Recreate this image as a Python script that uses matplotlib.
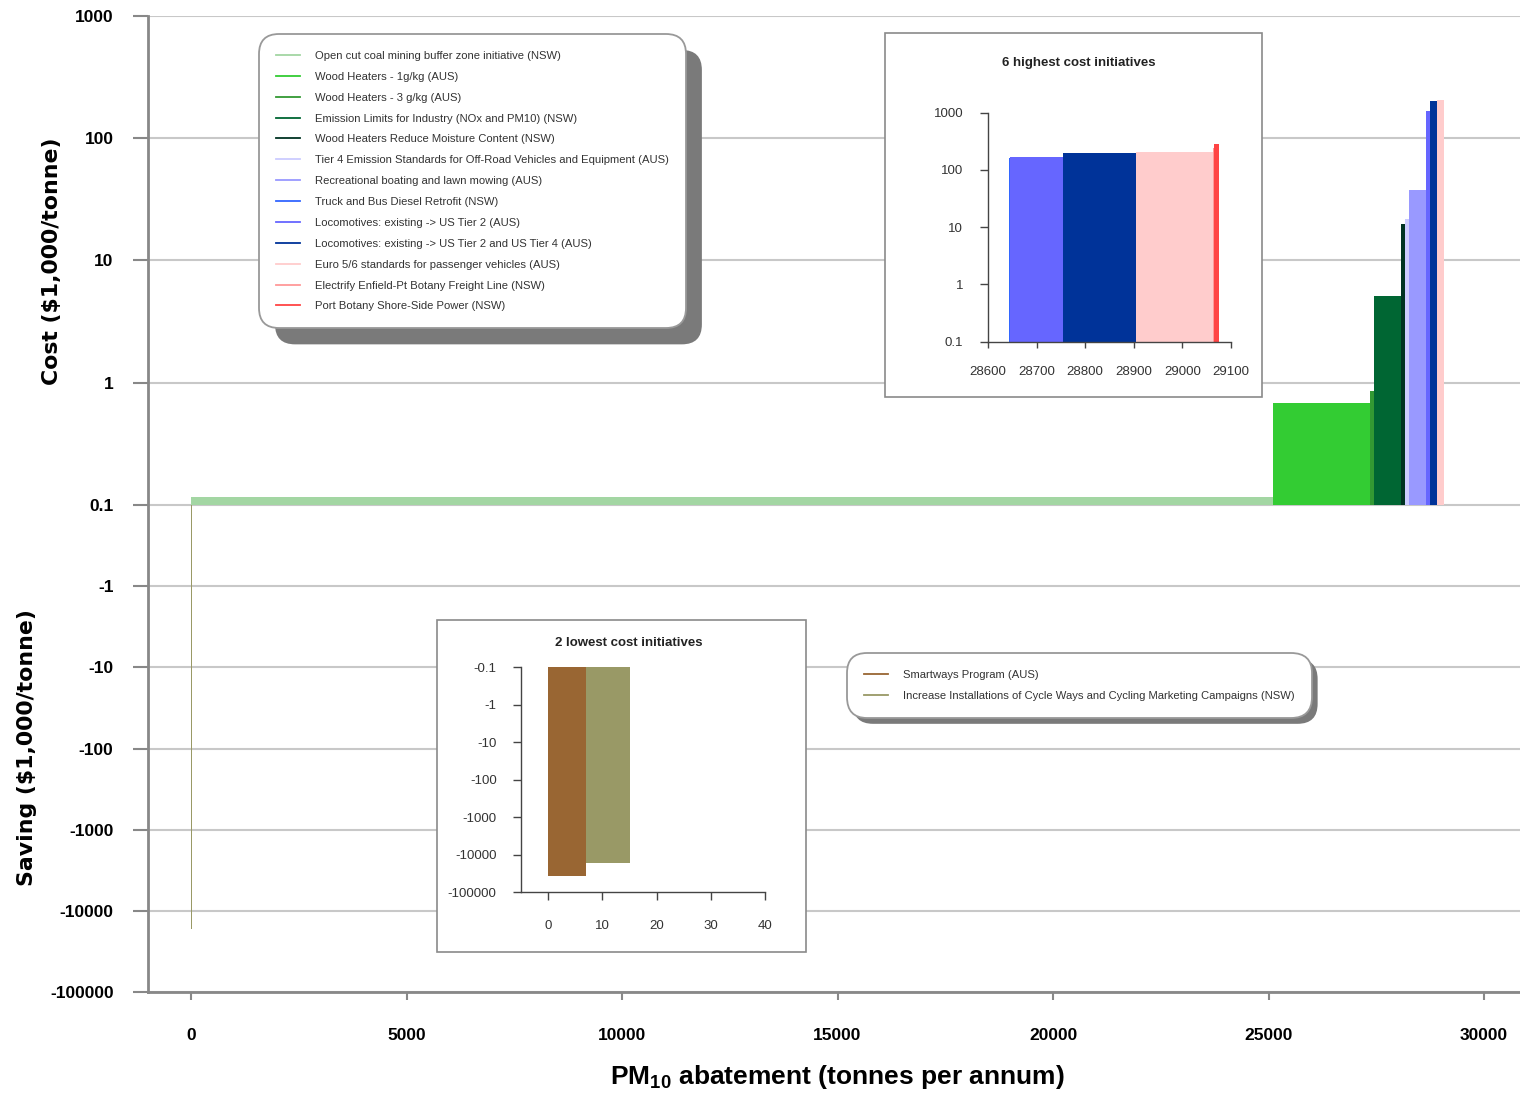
import numpy as np
import matplotlib
matplotlib.use('Agg')
import matplotlib.pyplot as plt
from matplotlib.lines import Line2D
from matplotlib.patches import FancyBboxPatch, Rectangle
from matplotlib.transforms import IdentityTransform
from matplotlib.ticker import FixedLocator, FixedFormatter, NullLocator

plt.rcParams['font.family'] = ['Liberation Sans', 'DejaVu Sans']

# ---------------- data ----------------
cost_initiatives = [
    'Open cut coal mining buffer zone initiative (NSW)',
    'Wood Heaters - 1g/kg (AUS)',
    'Wood Heaters - 3 g/kg (AUS)',
    'Emission Limits for Industry (NOx and PM10) (NSW)',
    'Wood Heaters Reduce Moisture Content (NSW)',
    'Tier 4 Emission Standards for Off-Road Vehicles and Equipment (AUS)',
    'Recreational boating and lawn mowing (AUS)',
    'Truck and Bus Diesel Retrofit (NSW)',
    'Locomotives: existing -> US Tier 2 (AUS)',
    'Locomotives: existing -> US Tier 2 and US Tier 4 (AUS)',
    'Euro 5/6 standards for passenger vehicles (AUS)',
    'Electrify Enfield-Pt Botany Freight Line (NSW)',
    'Port Botany Shore-Side Power (NSW)',
]
cost_abatement = [25100, 2260, 80, 635, 100, 85, 383, 2, 110, 150, 157, 4, 10]
cost_values = [0.115, 0.68, 0.86, 5.1, 20, 22, 38, 160, 168, 200, 205, 240, 284]
cost_colors = ['#a3d6a3', '#33cc33', '#339933', '#006633', '#003322', '#ccccff',
               '#9999ff', '#3366ff', '#6666ff', '#003399', '#ffcccc', '#ff9999',
               '#ff4444']

saving_initiatives = [
    'Smartways Program (AUS)',
    'Increase Installations of Cycle Ways and Cycling Marketing Campaigns (NSW)',
]
saving_abatement = [7, 8]
saving_values = [-37500, -16500]
saving_colors = ['#996633', '#999966']

main_yticks = [1000, 100, 10, 1, 0.1, -1, -10, -100, -1000, -10000, -100000]
main_yticklabels = ['1000', '100', '10', '1', '0.1', '-1', '-10', '-100',
                    '-1000', '-10000', '-100000']
main_xticks = [0, 5000, 10000, 15000, 20000, 25000, 30000]

high_yticks = [0.1, 1, 10, 100, 1000]
high_yticklabels = ['0.1', '1', '10', '100', '1000']
high_xticks = [28600, 28700, 28800, 28900, 29000, 29100]

low_yticks = [-0.1, -1, -10, -100, -1000, -10000, -100000]
low_yticklabels = ['-0.1', '-1', '-10', '-100', '-1000', '-10000', '-100000']
low_xticks = [0, 10, 20, 30, 40]

# ---------------- scales ----------------
K = 81.0 / 122.0
D = 0.01


def main_fwd(v):
    v = np.asarray(v, dtype=float)
    pos = np.log10(np.maximum(v, 0.1))
    neg = -1 - 0.2 * D - K * (np.log10(np.maximum(-v, 0.1)) + 1)
    mid = -1 + (v - 0.1) * D
    return np.where(v >= 0.1, pos, np.where(v <= -0.1, neg, mid))


def main_inv(p):
    p = np.asarray(p, dtype=float)
    pos = 10 ** np.clip(p, -1, 300)
    neg = -10 ** np.clip((-1 - 0.2 * D - p) / K - 1, -1, 300)
    mid = 0.1 + (p + 1) / D
    return np.where(p >= -1, pos, np.where(p <= -1 - 0.2 * D, neg, mid))


def neg_fwd(v):
    v = np.asarray(v, dtype=float)
    return -np.log10(np.maximum(-v, 1e-300))


def neg_inv(p):
    p = np.asarray(p, dtype=float)
    return -10 ** np.clip(-p, -300, 300)


# ---------------- figure ----------------
W, H = 1520, 1095
fig = plt.figure(figsize=(W / 100, H / 100), dpi=100)


def px_axes(l, t, r, b):
    return fig.add_axes([l / W, 1 - b / H, (r - l) / W, (b - t) / H])


ax = px_axes(148, 16, 1520, 992)
ax.set_yscale('function', functions=(main_fwd, main_inv))
ax.set_ylim(-100000, 1000)
ax.set_xlim(-1000, 30835)

left_c = np.concatenate([[0], np.cumsum(cost_abatement)[:-1]])
ax.bar(left_c, np.array(cost_values) - 0.1, width=cost_abatement, bottom=0.1,
       align='edge', color=cost_colors, linewidth=0, zorder=2)
left_s = np.concatenate([[0], np.cumsum(saving_abatement)[:-1]])
ax.bar(left_s, np.array(saving_values) + 0.1, width=saving_abatement, bottom=-0.1,
       align='edge', color=saving_colors, linewidth=0, zorder=2)

ax.yaxis.set_major_locator(FixedLocator(main_yticks))
ax.yaxis.set_major_formatter(FixedFormatter(main_yticklabels))
ax.yaxis.set_minor_locator(NullLocator())
ax.set_xticks(main_xticks)
ax.set_xticklabels([str(t) for t in main_xticks])
ax.yaxis.grid(True, color='#c8c8c8', linewidth=1.5)
ax.set_axisbelow(True)
for s in ['top', 'right']:
    ax.spines[s].set_visible(False)
for s in ['left', 'bottom']:
    ax.spines[s].set_color('#888888')
    ax.spines[s].set_linewidth(2)
ax.tick_params(axis='y', length=10.8, width=1.5, color='#888888', pad=14,
               labelsize=12.5)
ax.tick_params(axis='x', length=5.8, width=1.5, color='#888888', pad=20,
               labelsize=12.5)
for lab in ax.get_xticklabels() + ax.get_yticklabels():
    lab.set_fontweight('bold')

# axis titles
fig.text(52 / W, 1 - 261 / H, 'Cost ($1,000/tonne)', rotation=90, ha='center',
         va='center', family='DejaVu Sans', weight='bold', fontsize=15.8)
fig.text(27 / W, 1 - 748 / H, 'Saving ($1,000/tonne)', rotation=90, ha='center',
         va='center', family='DejaVu Sans', weight='bold', fontsize=15.8)
fig.text(837 / W, 1 - 1077 / H,
         r'PM$_{\mathdefault{10}}$ abatement (tonnes per annum)',
         ha='center', va='center', fontsize=19, weight='bold')

# ---------------- inset boxes ----------------
for (l, t, r, b) in [(885, 33, 1262, 397), (437, 620, 806, 952)]:
    fig.add_artist(Rectangle((l / W, 1 - b / H), (r - l) / W, (b - t) / H,
                             transform=fig.transFigure, facecolor='white',
                             edgecolor='#8a8a8a', linewidth=1.2, zorder=1))


def style_inset(a):
    for s in ['top', 'right']:
        a.spines[s].set_visible(False)
    for s in ['left', 'bottom']:
        a.spines[s].set_color('#444444')
        a.spines[s].set_linewidth(1)
    a.patch.set_alpha(0)
    a.set_zorder(2)


# high-cost inset
ax1 = px_axes(988, 112.7, 1231, 341.7)
style_inset(ax1)
ax1.set_yscale('log')
ax1.set_ylim(0.1, 1000)
ax1.set_xlim(28600, 29100)
n_hi = 6
ax1.bar(left_c[-n_hi:], np.array(cost_values[-n_hi:]) - 0.1,
        width=cost_abatement[-n_hi:], bottom=0.1, align='edge',
        color=cost_colors[-n_hi:], linewidth=0)
ax1.yaxis.set_major_locator(FixedLocator(high_yticks))
ax1.yaxis.set_major_formatter(FixedFormatter(high_yticklabels))
ax1.yaxis.set_minor_locator(NullLocator())
ax1.set_xticks(high_xticks)
ax1.set_xticklabels([str(t) for t in high_xticks])
ax1.tick_params(axis='y', length=5.8, width=1, color='#444444', pad=12,
                labelsize=9.5, labelcolor='#333333')
ax1.tick_params(axis='x', length=4.5, width=1, color='#444444', pad=13,
                labelsize=9.5, labelcolor='#333333')
fig.text(1079 / W, 1 - 63 / H, '6 highest cost initiatives', ha='center',
         va='center', fontsize=9.5, weight='bold', color='#222222', zorder=3)

# low-cost inset
ax2 = px_axes(520.7, 667.3, 765, 892.3)
style_inset(ax2)
ax2.set_yscale('function', functions=(neg_fwd, neg_inv))
ax2.set_ylim(-100000, -0.1)
ax2.set_xlim(-5.1, 40)
ax2.bar(left_s, np.array(saving_values) + 0.1, width=saving_abatement,
        bottom=-0.1, align='edge', color=saving_colors, linewidth=0)
ax2.yaxis.set_major_locator(FixedLocator(low_yticks))
ax2.yaxis.set_major_formatter(FixedFormatter(low_yticklabels))
ax2.yaxis.set_minor_locator(NullLocator())
ax2.set_xticks(low_xticks)
ax2.set_xticklabels([str(t) for t in low_xticks])
ax2.tick_params(axis='y', length=5.8, width=1, color='#444444', pad=11.5,
                labelsize=9.5, labelcolor='#333333')
ax2.tick_params(axis='x', length=6, width=1, color='#444444', pad=14,
                labelsize=9.5, labelcolor='#333333')
fig.text(629 / W, 1 - 643 / H, '2 lowest cost initiatives', ha='center',
         va='center', fontsize=9.5, weight='bold', color='#222222', zorder=3)

# ---------------- legends ----------------
legend_kw = dict(loc='upper left', bbox_transform=fig.transFigure,
                 borderaxespad=0, fontsize=8.15, frameon=True, fancybox=True,
                 edgecolor='#999999', facecolor='white', framealpha=1,
                 handlelength=2.15, handletextpad=1.3, borderpad=1.5,
                 labelspacing=0.96, labelcolor='#333333')

h1 = [Line2D([], [], color=c, lw=1.3) for c in cost_colors]
leg1 = fig.legend(h1, cost_initiatives, bbox_to_anchor=(259 / W, 1 - 34 / H),
                  **legend_kw)
h2 = [Line2D([], [], color=c, lw=1.3) for c in saving_colors]
leg2 = fig.legend(h2, saving_initiatives, bbox_to_anchor=(847 / W, 1 - 653 / H),
                  **legend_kw)
for lg in (leg1, leg2):
    lg.get_frame().set_boxstyle('round', pad=0, rounding_size=1.8)
    lg.get_frame().set_linewidth(1.3)
    lg.set_zorder(6)

fig.canvas.draw()
for lg, off in ((leg1, 16), (leg2, 6)):
    bb = lg.get_window_extent()
    sh = FancyBboxPatch((bb.x0 + off, bb.y0 - off), bb.width, bb.height,
                        boxstyle='round,pad=0,rounding_size=20',
                        transform=IdentityTransform(), facecolor='#7a7a7a',
                        edgecolor='none', zorder=4)
    fig.add_artist(sh)

fig.savefig('out.png', dpi=100)
